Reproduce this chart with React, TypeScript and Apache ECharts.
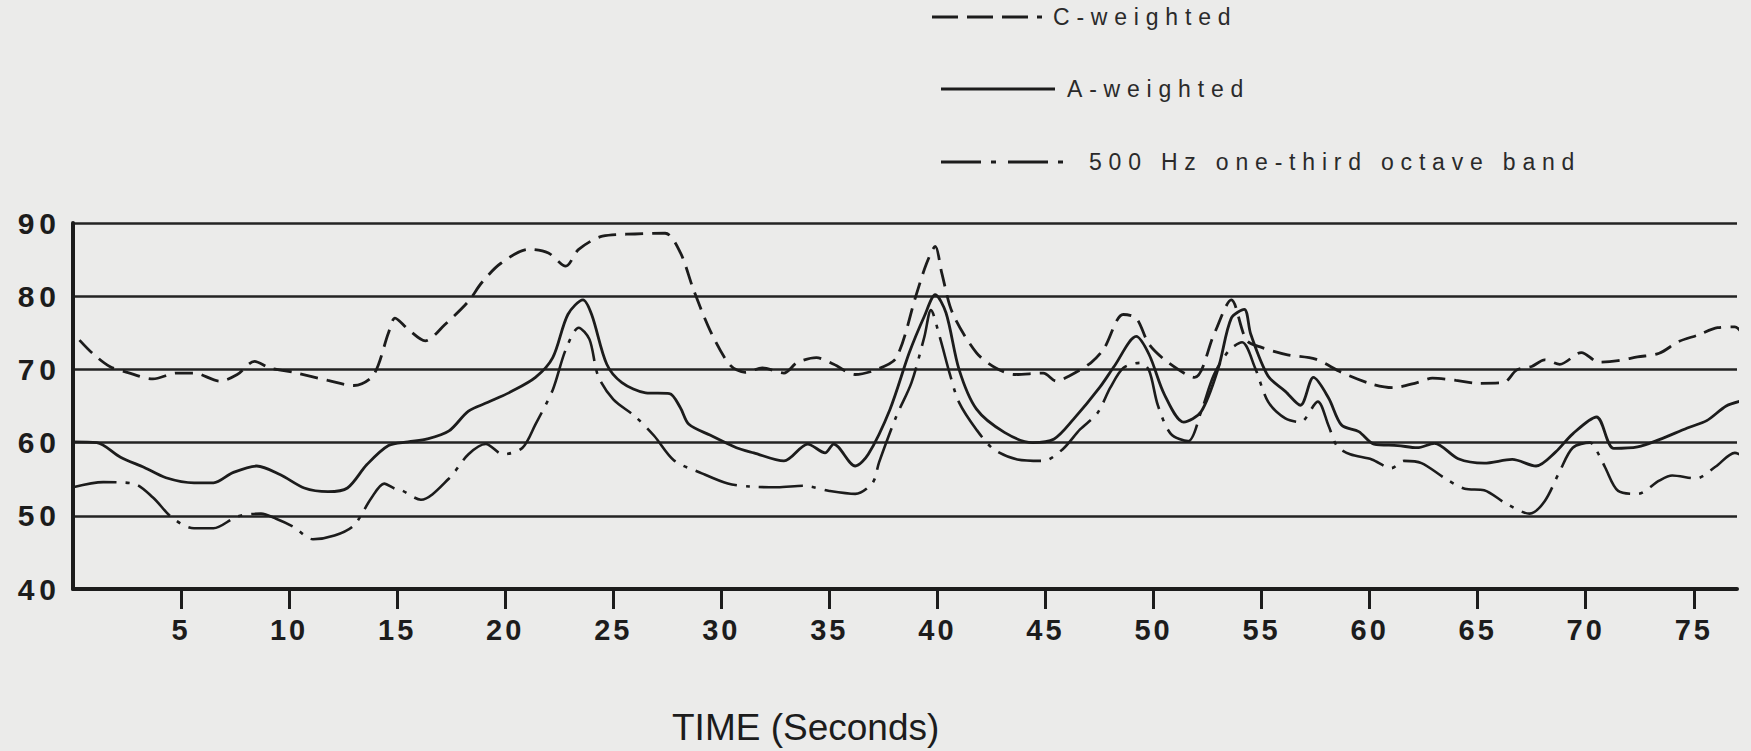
import React, { useEffect, useRef } from "react";
import * as echarts from "echarts";

// C-weighted (dashed)
const cTimes = [0.3, 0.9, 1.7, 2.5, 3.7, 4.8, 5.6, 6.8, 7.6, 8.4, 9.1, 10.2, 11.8, 13.0, 13.9, 14.6, 14.9, 15.5, 16.3, 17.2, 18.3, 18.9, 19.8, 21.1, 22.0, 22.8, 23.4, 24.5, 26.0, 27.4, 28.1, 28.7, 29.5, 30.4, 31.1, 31.9, 32.9, 33.5, 34.4, 35.2, 36.2, 37.2, 38.1, 39.0, 39.5, 39.9, 40.2, 40.7, 41.8, 42.7, 43.6, 44.9, 45.5, 46.1, 47.1, 47.7, 48.6, 49.2, 49.8, 50.7, 51.9, 52.8, 53.6, 54.3, 55.0, 56.2, 57.5, 58.7, 60.1, 61.1, 62.2, 62.9, 64.0, 65.0, 66.2, 66.8, 67.5, 68.1, 68.8, 69.8, 70.6, 71.5, 72.4, 73.4, 74.3, 75.2, 76.1, 76.9, 77.2];
const cValues = [74.0, 72.2, 70.4, 69.6, 68.7, 69.5, 69.5, 68.4, 69.3, 71.1, 70.2, 69.6, 68.5, 67.8, 69.2, 75.0, 77.0, 75.5, 73.9, 76.1, 79.3, 81.8, 84.5, 86.4, 85.9, 84.1, 86.4, 88.2, 88.5, 88.6, 86.0, 81.0, 75.2, 70.6, 69.6, 70.2, 69.5, 70.9, 71.6, 70.7, 69.3, 70.0, 71.6, 80.0, 84.5, 86.8, 83.2, 77.7, 72.3, 70.2, 69.3, 69.5, 68.4, 69.1, 70.9, 72.8, 77.5, 77.0, 73.4, 70.9, 68.9, 74.8, 79.5, 74.0, 73.0, 72.0, 71.4, 69.6, 68.0, 67.5, 68.2, 68.8, 68.5, 68.1, 68.2, 69.9, 70.4, 71.3, 70.7, 72.3, 71.0, 71.2, 71.7, 72.2, 73.8, 74.7, 75.7, 75.8, 75.1];

// A-weighted (solid)
const aTimes = [0, 1.1, 2.2, 3.3, 4.3, 5.6, 6.5, 7.4, 8.5, 9.6, 10.7, 11.8, 12.7, 13.6, 14.6, 15.5, 16.4, 17.4, 18.3, 19.2, 20.3, 21.4, 22.2, 22.9, 23.6, 24.0, 24.7, 25.4, 26.5, 27.6, 28.1, 28.5, 29.5, 30.7, 31.5, 32.9, 34.0, 34.8, 35.2, 36.2, 36.8, 37.8, 38.7, 39.4, 39.9, 40.4, 41.0, 41.8, 43.1, 44.4, 45.4, 46.3, 47.5, 48.2, 49.2, 49.8, 50.5, 51.4, 52.2, 53.0, 53.6, 54.2, 54.5, 55.3, 56.1, 56.8, 57.4, 58.1, 58.7, 59.5, 60.2, 61.3, 62.2, 63.0, 64.1, 65.3, 66.6, 67.7, 68.6, 69.4, 70.5, 71.3, 72.4, 73.4, 74.7, 75.6, 76.5, 77.2];
const aValues = [60.1, 60.0, 58.0, 56.6, 55.2, 54.5, 54.5, 55.9, 56.8, 55.6, 53.8, 53.3, 53.8, 57.0, 59.6, 60.1, 60.5, 61.6, 64.3, 65.5, 67.0, 68.9, 71.6, 77.5, 79.5, 77.5, 70.7, 68.2, 66.8, 66.7, 64.8, 62.5, 61.0, 59.3, 58.6, 57.5, 59.8, 58.6, 59.8, 56.8, 58.4, 64.5, 72.3, 77.3, 80.2, 77.7, 70.0, 64.6, 61.4, 60.0, 60.5, 63.2, 67.5, 70.5, 74.5, 72.0, 66.6, 62.8, 64.2, 70.2, 77.0, 78.2, 74.8, 69.1, 67.0, 65.1, 68.9, 66.1, 62.4, 61.5, 59.8, 59.6, 59.3, 59.9, 57.8, 57.2, 57.7, 56.8, 58.7, 61.2, 63.5, 59.2, 59.4, 60.4, 62.0, 63.0, 65.0, 65.7];

// 500 Hz one-third octave band (dash-dot)
const bTimes = [0, 1.4, 2.8, 3.7, 4.6, 5.6, 6.5, 7.6, 8.7, 9.4, 10.2, 11.1, 12.1, 13.0, 13.8, 14.4, 14.9, 15.2, 16.1, 17.4, 18.3, 19.1, 19.9, 20.8, 21.4, 22.2, 22.8, 23.4, 23.9, 24.3, 25.0, 26.0, 26.9, 27.8, 29.1, 30.3, 31.3, 32.6, 33.8, 35.0, 36.2, 37.0, 37.3, 38.1, 38.8, 39.4, 39.7, 40.1, 40.6, 41.0, 41.8, 42.6, 43.7, 44.9, 45.8, 46.6, 47.4, 48.0, 48.6, 49.4, 49.8, 50.2, 50.8, 51.6, 52.2, 52.8, 53.5, 54.1, 54.7, 55.3, 56.1, 56.8, 57.6, 58.1, 58.5, 59.1, 60.1, 61.0, 61.6, 62.4, 63.5, 64.4, 65.3, 66.3, 67.4, 68.1, 68.8, 69.4, 70.2, 70.6, 70.9, 71.5, 72.4, 73.4, 74.0, 75.1, 76.0, 76.9, 77.2];
const bValues = [53.9, 54.6, 54.4, 52.5, 49.7, 48.3, 48.3, 49.9, 50.3, 49.6, 48.5, 46.8, 47.3, 48.7, 52.4, 54.4, 53.7, 53.5, 52.2, 55.1, 58.4, 59.8, 58.4, 59.3, 62.5, 67.2, 72.7, 75.7, 74.1, 69.1, 65.9, 63.6, 60.9, 57.6, 55.8, 54.4, 54.0, 53.9, 54.1, 53.4, 53.0, 54.5, 57.3, 63.6, 68.2, 74.5, 78.1, 74.5, 69.1, 65.5, 61.8, 59.1, 57.7, 57.5, 59.1, 61.8, 64.0, 67.5, 70.2, 70.9, 69.8, 65.1, 61.2, 60.2, 64.2, 69.3, 72.6, 73.7, 70.2, 65.6, 63.3, 62.8, 65.6, 62.3, 59.5, 58.4, 57.7, 56.5, 57.5, 57.2, 55.1, 53.7, 53.5, 51.7, 50.3, 52.0, 56.1, 59.3, 60.0, 58.4, 56.6, 53.4, 53.0, 54.8, 55.5, 55.1, 56.7, 58.6, 58.3];

const xTickValues = [5, 10, 15, 20, 25, 30, 35, 40, 45, 50, 55, 60, 65, 70, 75];
const seriesNames = ["C-weighted", "A-weighted", "500 Hz one-third octave band"];
const xAxisTitle = "TIME (Seconds)";

const INK = "#1c1c1c";
const FONT = "'Liberation Sans', Arial, Helvetica, sans-serif";

const pairs = (t: number[], v: number[]) => t.map((x, i) => [x, v[i]]);

export default function App() {
  const ref = useRef<HTMLDivElement>(null);

  useEffect(() => {
    if (!ref.current) return;
    const chart = echarts.init(ref.current, null, { renderer: "svg" });
    const dashC = [18, 9];
    const dashB = [44, 9, 4, 9];
    const legendY = [17, 89, 162];
    const legendX1 = [932, 941, 941];
    const legendX2 = [1042, 1055, 1072];
    const legendTextX = [1053, 1067, 1089];
    const legendDash: any[] = [[26, 9], null, [40, 10, 5, 12]];
    chart.setOption({
      animation: false,
      backgroundColor: "#ebebea",
      grid: { left: 73, right: 14, top: 223, bottom: 162, containLabel: false },
      xAxis: {
        type: "value",
        min: 0,
        max: 77,
        interval: 5,
        axisLine: { show: true, lineStyle: { color: INK, width: 4 } },
        axisTick: {
          show: true,
          inside: false,
          length: 20,
          customValues: xTickValues,
          lineStyle: { color: INK, width: 3 },
        },
        axisLabel: {
          customValues: xTickValues,
          margin: 26,
          fontSize: 29,
          fontWeight: "bold",
          fontFamily: FONT,
          color: INK,
        },
        splitLine: { show: false },
      },
      yAxis: {
        type: "value",
        min: 40,
        max: 90,
        interval: 10,
        axisLine: { show: true, lineStyle: { color: INK, width: 4 } },
        axisTick: { show: false },
        axisLabel: {
          margin: 12,
          fontSize: 30,
          fontWeight: "bold",
          fontFamily: FONT,
          color: INK,
        },
        splitLine: { show: true, lineStyle: { color: "#232323", width: 2.5 } },
      },
      graphic: [
        {
          type: "text",
          left: 812 - 140,
          top: 709,
          style: {
            text: xAxisTitle,
            fontSize: 37,
            fontFamily: FONT,
            fill: INK,
          },
        },
        ...seriesNames.flatMap((name, i) => [
          {
            type: "line",
            shape: { x1: legendX1[i], y1: legendY[i], x2: legendX2[i], y2: legendY[i] },
            style: { stroke: INK, lineWidth: 3, lineDash: legendDash[i] },
          },
          {
            type: "text",
            x: legendTextX[i],
            y: legendY[i],
            style: {
              text: name,
              fontSize: 23,
              fontFamily: FONT,
              fill: "#2a2a2a",
              verticalAlign: "middle",
            },
          },
        ]),
      ],
      series: [
        {
          name: seriesNames[0],
          type: "line",
          data: pairs(cTimes, cValues),
          showSymbol: false,
          symbol: "none",
          smooth: 0.3,
          lineStyle: { color: INK, width: 2.8, type: dashC },
        },
        {
          name: seriesNames[1],
          type: "line",
          data: pairs(aTimes, aValues),
          showSymbol: false,
          symbol: "none",
          smooth: 0.3,
          lineStyle: { color: INK, width: 2.8, type: "solid" },
        },
        {
          name: seriesNames[2],
          type: "line",
          data: pairs(bTimes, bValues),
          showSymbol: false,
          symbol: "none",
          smooth: 0.3,
          lineStyle: { color: INK, width: 2.6, type: dashB },
        },
      ],
    });
    return () => chart.dispose();
  }, []);

  return (
    <>
      <style>{`text[style*="23px"]{letter-spacing:6.8px;} text[style*="29px"]{letter-spacing:3px;} text[style*="30px"]{letter-spacing:5px;}`}</style>
      <div
        ref={ref}
        style={{ position: "fixed", left: 0, top: 0, width: 1751, height: 751, background: "#ebebea" }}
      />
    </>
  );
}
